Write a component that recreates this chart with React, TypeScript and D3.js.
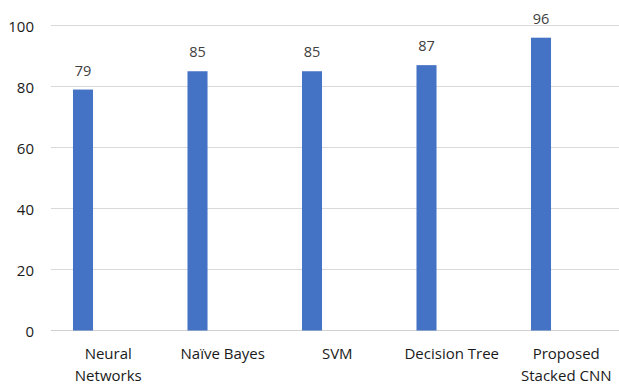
import React, { useMemo } from "react";
import * as d3 from "d3";

const categories = ["Neural Networks", "Naïve Bayes", "SVM", "Decision Tree", "Proposed Stacked CNN"];
const accuracy = [79, 85, 85, 87, 96];
const yTicks = [0, 20, 40, 60, 80, 100];

const W = 619;
const H = 385;
const FONT = "'Open Sans', 'Noto Sans', sans-serif";

function wrapLabel(text: string, maxWidth: number, font: string): string[] {
  const canvas = document.createElement("canvas");
  const ctx = canvas.getContext("2d")!;
  ctx.font = font;
  const words = text.split(" ");
  const lines: string[] = [];
  let cur = "";
  for (const w of words) {
    const test = cur ? cur + " " + w : w;
    if (cur && ctx.measureText(test).width > maxWidth) {
      lines.push(cur);
      cur = w;
    } else {
      cur = test;
    }
  }
  if (cur) lines.push(cur);
  return lines;
}

export default function App() {
  const margin = { left: 51, right: -4.5, top: 25.5, bottom: 54.5 };
  const x = d3
    .scaleBand<string>()
    .domain(categories)
    .range([margin.left, W - margin.right]);
  const y = d3
    .scaleLinear()
    .domain([0, 100])
    .range([H - margin.bottom, margin.top]);

  const bw = x.bandwidth();
  const barOffset = bw * 0.192;
  const barWidth = bw * 0.175;

  const wrapped = useMemo(
    () => categories.map((c) => wrapLabel(c, 104, `15px ${FONT}`)),
    []
  );

  return (
    <svg
      width={W}
      height={H}
      style={{ position: "absolute", left: 0, top: 0, background: "#fff" }}
      fontFamily={FONT}
    >
      {yTicks.map((t) => (
        <g key={t}>
          <line
            x1={margin.left}
            x2={W}
            y1={y(t)}
            y2={y(t)}
            stroke={t === 0 ? "#d0d0d0" : "#d9d9d9"}
            strokeWidth={1}
          />
          <text
            x={34}
            y={y(t)}
            textAnchor="end"
            dominantBaseline="central"
            fontSize={15}
            fill="#1a1a1a"
          >
            {t}
          </text>
        </g>
      ))}
      {categories.map((c, i) => {
        const bx = (x(c) as number) + barOffset;
        return (
          <g key={c}>
            <rect
              x={bx}
              y={y(accuracy[i])}
              width={barWidth}
              height={y(0) - y(accuracy[i])}
              fill="#4472C4"
            />
            <text
              x={bx + barWidth / 2}
              y={y(accuracy[i]) - 19.5}
              textAnchor="middle"
              dominantBaseline="central"
              fontSize={14.5}
              fill="#404040"
            >
              {accuracy[i]}
            </text>
            {wrapped[i].map((line, k) => (
              <text
                key={k}
                x={(x(c) as number) + bw / 2}
                y={353 + k * 22}
                textAnchor="middle"
                dominantBaseline="central"
                fontSize={15}
                fill="#1a1a1a"
              >
                {line}
              </text>
            ))}
          </g>
        );
      })}
    </svg>
  );
}
